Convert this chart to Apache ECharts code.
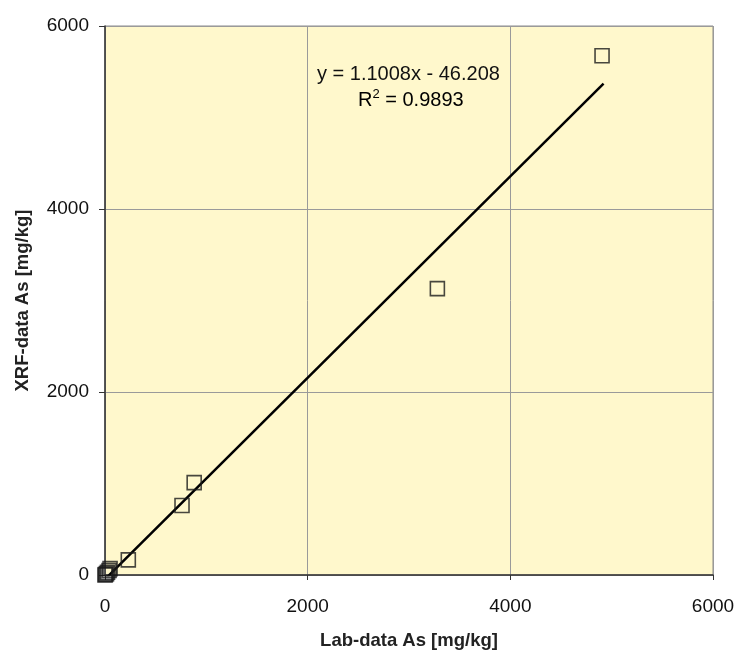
<!DOCTYPE html>
<html><head><meta charset="utf-8">
<script src="https://cdn.jsdelivr.net/npm/echarts@6/dist/echarts.min.js"></script>
<style>html,body{margin:0;padding:0;background:#fff}#c{width:736px;height:660px}</style>
</head><body><div id="c"></div>
<script>
const labX = [4905, 3280, 880, 760, 230, 50, 40, 25, 15, 5, 0];
const xrfY = [5675, 3130, 1010, 760, 165, 70, 50, 30, 15, 5, 0];
const slope = 1.1008, intercept = -46.208;
const trendX = [10, 4920];
const eqText = 'y = 1.1008x - 46.208';
const r2Value = ' = 0.9893';

const pts = labX.map((x, i) => [x, xrfY[i]]);
const trend = trendX.map(x => [x, slope * x + intercept]);
const chart = echarts.init(document.getElementById('c'), null, {renderer: 'canvas'});
const font = '"Liberation Sans", Arial, sans-serif';
chart.setOption({
  animation: false,
  grid: {left: 105, right: 23, top: 26, bottom: 85, outerBoundsMode: 'none', containLabel: false,
         show: true, backgroundColor: '#FFF8CC', borderColor: '#8c8c8c', borderWidth: 1},
  xAxis: {
    type: 'value', min: 0, max: 6000, interval: 2000,
    name: 'Lab-data As [mg/kg]', nameLocation: 'middle', nameGap: 56,
    nameTextStyle: {fontFamily: font, fontWeight: 'bold', fontSize: 18.5, color: '#222'},
    axisLine: {show: true, onZero: false, lineStyle: {color: '#333', width: 1.5}},
    axisTick: {show: true, inside: false, length: 5, lineStyle: {color: '#333'}},
    axisLabel: {fontFamily: font, fontSize: 19, color: '#111', margin: 22, formatter: v => String(v)},
    splitLine: {show: true, lineStyle: {color: '#9a9a9a', width: 1}}
  },
  yAxis: {
    type: 'value', min: 0, max: 6000, interval: 2000,
    name: 'XRF-data As [mg/kg]', nameLocation: 'middle', nameGap: 73, nameRotate: 90,
    nameTextStyle: {fontFamily: font, fontWeight: 'bold', fontSize: 18.5, color: '#222'},
    axisLine: {show: true, onZero: false, lineStyle: {color: '#333', width: 1.5}},
    axisTick: {show: true, inside: false, length: 6, lineStyle: {color: '#333'}},
    axisLabel: {fontFamily: font, fontSize: 19, color: '#111', margin: 16, formatter: v => String(v)},
    splitLine: {show: true, lineStyle: {color: '#9a9a9a', width: 1}}
  },
  series: [
    {type: 'line', data: trend, symbol: 'none', lineStyle: {color: '#000', width: 2.5}, z: 3},
    {type: 'scatter', data: pts, symbol: 'rect', symbolSize: 14,
     itemStyle: {color: 'rgba(0,0,0,0)', borderColor: '#1a1a1a', borderWidth: 1.6}, z: 4}
  ],
  graphic: [
    {type: 'text', left: 317, top: 64, style: {text: eqText, fontSize: 20, fontFamily: font, fill: '#111'}},
    {type: 'text', left: 358, top: 88, style: {
      text: '{a|R}{s|2}{a|' + r2Value + '}',
      rich: {a: {fontSize: 20, fontFamily: font, color: '#111', lineHeight: 28},
             s: {fontSize: 13, fontFamily: font, color: '#111', lineHeight: 28, padding: [0,0,12,0]}}
    }}
  ]
});
</script></body></html>
